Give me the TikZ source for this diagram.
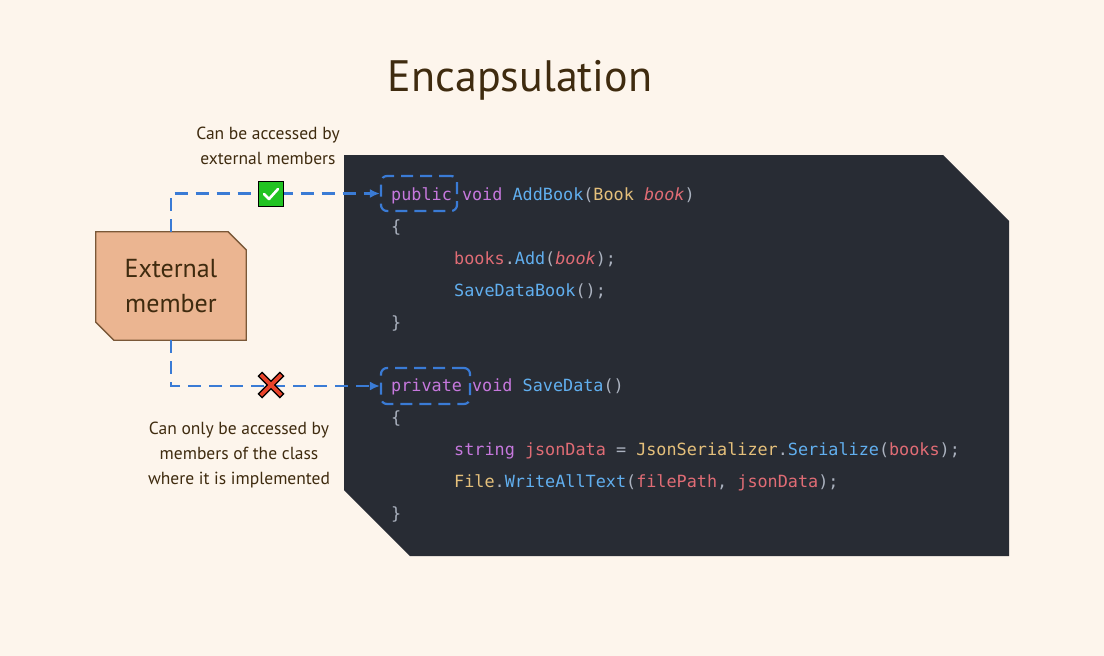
\documentclass[tikz,border=0pt]{standalone}
\usepackage{fontspec}
\setmainfont{PT Sans}
\setmonofont{DejaVu Sans Mono}
\usepackage{xcolor}
\usepackage{tikz}
\usetikzlibrary{arrows.meta}
\usetikzlibrary{backgrounds}
\definecolor{paper}{HTML}{FDF5EC}
\definecolor{ink}{HTML}{3F2B0F}
\definecolor{extfill}{HTML}{EBB591}
\definecolor{extline}{HTML}{7A5838}
\definecolor{panelbg}{HTML}{282C34}
\definecolor{punct}{HTML}{ABB2BF}
\definecolor{kwpurple}{HTML}{C678DD}
\definecolor{fnblue}{HTML}{61AFEF}
\definecolor{tyyellow}{HTML}{E5C07B}
\definecolor{varred}{HTML}{E06C75}
\definecolor{linkblue}{HTML}{3A7BD5}
\definecolor{okgreen}{HTML}{22C322}
\definecolor{nored}{HTML}{E8432A}
\newcommand{\ckw}[1]{\textcolor{kwpurple}{#1}}
\newcommand{\cfn}[1]{\textcolor{fnblue}{#1}}
\newcommand{\cty}[1]{\textcolor{tyyellow}{#1}}
\newcommand{\cvar}[1]{\textcolor{varred}{#1}}
\newcommand{\carg}[1]{\textcolor{varred}{\itshape #1}}
\tikzset{
    mytitle/.style = {text=ink, font=\fontsize{44}{48}\selectfont},
    mynote/.style = {align=center, text=ink, font=\fontsize{17.5}{25}\selectfont},
    myext/.style = {align=center, text=ink, minimum width=150pt, minimum height=108pt, font=\fontsize{26}{35}\selectfont},
    mycode/.style = {anchor=base west, inner sep=0pt, text=punct, font=\ttfamily\fontsize{16.8}{20}\selectfont},
    myframe/.style = {draw=linkblue, line width=2.2pt, dash pattern=on 12pt off 7pt, rounded corners=6pt},
    mylink/.style = {draw=linkblue, line width=2.3pt, dash pattern=on 13pt off 8pt, -{Latex[length=10pt,width=9pt]}},
    myok/.style = {draw=black, fill=okgreen, line width=1.2pt, minimum size=25pt, inner sep=0pt},
    myno/.style = {minimum size=22pt, inner sep=0pt},
}

\begin{document}
\begin{tikzpicture}[x=1pt, y=-1pt]
  % title and notes
  \node[mytitle] (title) at (520,80) {Encapsulation};
  \node[mynote] (notepub) at (268,146) {Can be accessed by\\external members};
  \node[mynote] (notepriv) at (239,455) {Can only be accessed by\\members of the class\\where it is implemented};

  % code panel
  \fill[panelbg] (344,155) -- (943,155) -- (1009,221) -- (1009,556)
    -- (410,556) -- (344,490) -- cycle;
  \node[mycode] (l1) at (391,200) {\ckw{public} \ckw{void} \cfn{AddBook}(\cty{Book} \carg{book})};
  \node[mycode] (l2) at (391,232) {\{};
  \node[mycode] (l3) at (454,264) {\cvar{books}.\cfn{Add}(\carg{book});};
  \node[mycode] (l4) at (454,296) {\cfn{SaveDataBook}();};
  \node[mycode] (l5) at (391,328) {\}};
  \node[mycode] (l6) at (391,391) {\ckw{private} \ckw{void} \cfn{SaveData}()};
  \node[mycode] (l7) at (391,423) {\{};
  \node[mycode] (l8) at (454,455) {\ckw{string} \cvar{jsonData} = \cty{JsonSerializer}.\cfn{Serialize}(\cvar{books});};
  \node[mycode] (l9) at (454,487) {\cty{File}.\cfn{WriteAllText}(\cvar{filePath}, \cvar{jsonData});};
  \node[mycode] (l10) at (391,519) {\}};
  \node[myframe, minimum width=76pt, minimum height=35pt] (pub) at (419,193.5) {};
  \node[myframe, minimum width=89pt, minimum height=36pt] (priv) at (425.5,386) {};

  % external member
  \node[myext] (ext) at (171,286) {\raisebox{-3pt}{External}\\\raisebox{-3pt}{member}};
  \begin{scope}[on background layer]
    \fill[paper] (0,0) rectangle (1104,656);
    \draw[fill=extfill, draw=extline, line width=1.3pt]
      (ext.north west) -- ([xshift=-18pt]ext.north east) -- ([yshift=-18pt]ext.north east)
      -- (ext.south east) -- ([xshift=18pt]ext.south west) -- ([yshift=18pt]ext.south west) -- cycle;
  \end{scope}

  % links
  \draw[mylink] (ext.north) |- (pub.west);
  \draw[mylink] (ext.south) |- (priv.west);

  \node[myok] (ok) at (271,194) {};
  \draw[white, line width=2.6pt, line cap=round, line join=round]
    ([shift={(-7pt,0pt)}]ok.center) -- ([shift={(-2pt,-5pt)}]ok.center) -- ([shift={(7pt,5pt)}]ok.center);
  \node[myno] (no) at (271,385) {};
  \draw[black, line width=6.5pt] (no.north west) -- (no.south east) (no.north east) -- (no.south west);
  \draw[nored, line width=3.6pt] ([shift={(1pt,-1pt)}]no.north west) -- ([shift={(-1pt,1pt)}]no.south east)
    ([shift={(-1pt,-1pt)}]no.north east) -- ([shift={(1pt,1pt)}]no.south west);
\end{tikzpicture}
\end{document}
